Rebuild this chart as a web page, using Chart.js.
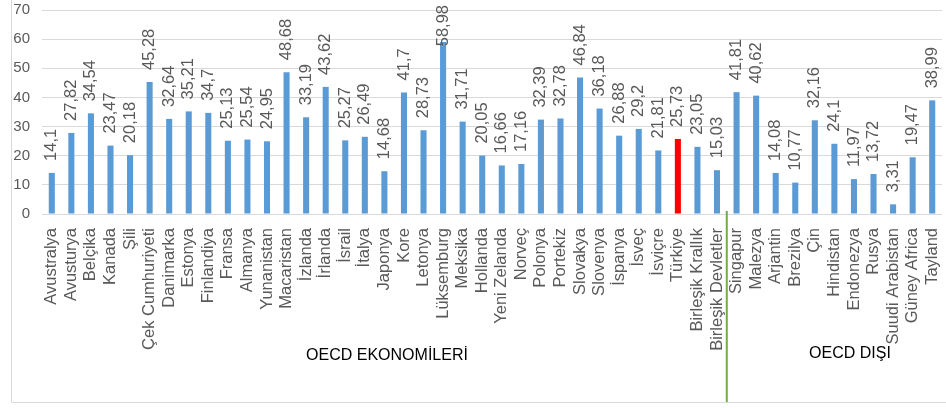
<!DOCTYPE html>
<html>
<head>
<meta charset="utf-8">
<script src="https://cdn.jsdelivr.net/npm/chart.js@4"></script>
<style>
  html, body { margin: 0; padding: 0; background: #fff; }
  #wrap { width: 946px; height: 408px; }
</style>
</head>
<body>
<div id="wrap"><canvas id="chart" width="946" height="408"></canvas></div>
<script>
// --- DATA ---
const countries = ['Avustralya', 'Avusturya', 'Belçika', 'Kanada', 'Şili', 'Çek Cumhuriyeti', 'Danimarka', 'Estonya',
    'Finlandiya', 'Fransa', 'Almanya', 'Yunanistan', 'Macaristan', 'İzlanda', 'İrlanda', 'İsrail', 'İtalya', 'Japonya',
    'Kore', 'Letonya', 'Lüksemburg', 'Meksika', 'Hollanda', 'Yeni Zelanda', 'Norveç', 'Polonya', 'Portekiz', 'Slovakya',
    'Slovenya', 'İspanya', 'İsveç', 'İsviçre', 'Türkiye', 'Birleşik Krallık', 'Birleşik Devletler',
    'Singapur', 'Malezya', 'Arjantin', 'Brezilya', 'Çin', 'Hindistan', 'Endonezya', 'Rusya', 'Suudi Arabistan',
    'Güney Africa', 'Tayland'];
const values = [14.1, 27.82, 34.54, 23.47, 20.18, 45.28, 32.64, 35.21, 34.7, 25.13, 25.54, 24.95, 48.68, 33.19,
    43.62, 25.27, 26.49, 14.68, 41.7, 28.73, 58.98, 31.71, 20.05, 16.66, 17.16, 32.39, 32.78, 46.84, 36.18, 26.88,
    29.2, 21.81, 25.73, 23.05, 15.03, 41.81, 40.62, 14.08, 10.77, 32.16, 24.1, 11.97, 13.72, 3.31, 19.47, 38.99];
const yTicks = [0, 10, 20, 30, 40, 50, 60, 70];
const groupNames = ['OECD EKONOMİLERİ', 'OECD DIŞI'];
const highlight = 'Türkiye';
const lastOecd = 'Birleşik Devletler';

const barColors = countries.map(c => c === highlight ? '#ff0000' : '#5b9bd5');
const fmt = v => String(v).replace('.', ',');
const FONT = '"Liberation Sans", Arial, sans-serif';

// value labels, rotated, above each bar
const valueLabels = {
    id: 'valueLabels',
    afterDatasetsDraw(chart) {
        const ctx = chart.ctx;
        const meta = chart.getDatasetMeta(0);
        ctx.save();
        ctx.font = '16.5px ' + FONT;
        ctx.fillStyle = '#595959';
        ctx.textAlign = 'left';
        ctx.textBaseline = 'middle';
        meta.data.forEach((bar, i) => {
            const txt = fmt(values[i]);
            const w = ctx.measureText(txt).width;
            let y0 = bar.y - 12;
            if (y0 - w < 5) y0 = 5 + w;
            ctx.save();
            ctx.translate(bar.x, y0);
            ctx.rotate(-Math.PI / 2);
            ctx.fillText(txt, 0, 0);
            ctx.restore();
        });
        ctx.restore();
    }
};

// frame, separator line and group titles
const decor = {
    id: 'decor',
    afterDraw(chart) {
        const ctx = chart.ctx;
        const x = chart.scales.x;
        ctx.save();
        ctx.strokeStyle = '#d9d9d9';
        ctx.lineWidth = 1;
        ctx.beginPath();
        ctx.moveTo(11.5, 0);
        ctx.lineTo(11.5, 402.5);
        ctx.lineTo(946, 402.5);
        ctx.stroke();

        const i = countries.indexOf(lastOecd);
        const sx = (x.getPixelForValue(i) + x.getPixelForValue(i + 1)) / 2;
        ctx.strokeStyle = '#70ad47';
        ctx.lineWidth = 2;
        ctx.beginPath();
        ctx.moveTo(sx, 211);
        ctx.lineTo(sx, 402);
        ctx.stroke();

        ctx.fillStyle = '#000';
        ctx.font = '16px ' + FONT;
        ctx.textAlign = 'center';
        ctx.textBaseline = 'middle';
        ctx.fillText(groupNames[0], 387, 356);
        ctx.fillText(groupNames[1], 850, 354);
        ctx.restore();
    }
};

new Chart(document.getElementById('chart'), {
    type: 'bar',
    data: {
        labels: countries,
        datasets: [{
            data: values,
            backgroundColor: barColors,
            barPercentage: 0.62,
            categoryPercentage: 0.5
        }]
    },
    plugins: [valueLabels, decor],
    options: {
        responsive: false,
        animation: false,
        layout: { padding: { top: 10, right: 4, left: 0, bottom: 0 } },
        plugins: {
            legend: { display: false },
            tooltip: { enabled: false }
        },
        scales: {
            x: {
                grid: { display: false, drawTicks: false },
                border: { display: false },
                afterFit: s => { s.height = 194; s.paddingLeft = 0; s.paddingRight = 0; },
                ticks: {
                    autoSkip: false,
                    maxRotation: 90,
                    minRotation: 90,
                    padding: 14,
                    color: '#595959',
                    font: { family: FONT, size: 16.5 }
                }
            },
            y: {
                min: 0,
                max: 70,
                afterBuildTicks: s => { s.ticks = yTicks.map(v => ({ value: v })); },
                afterFit: s => { s.width = 42; s.paddingTop = 0; s.paddingBottom = 0; },
                grid: { color: '#d9d9d9', drawTicks: false },
                border: { display: false },
                ticks: {
                    padding: 12,
                    color: '#595959',
                    font: { family: FONT, size: 15 }
                }
            }
        }
    }
});
</script>
</body>
</html>
